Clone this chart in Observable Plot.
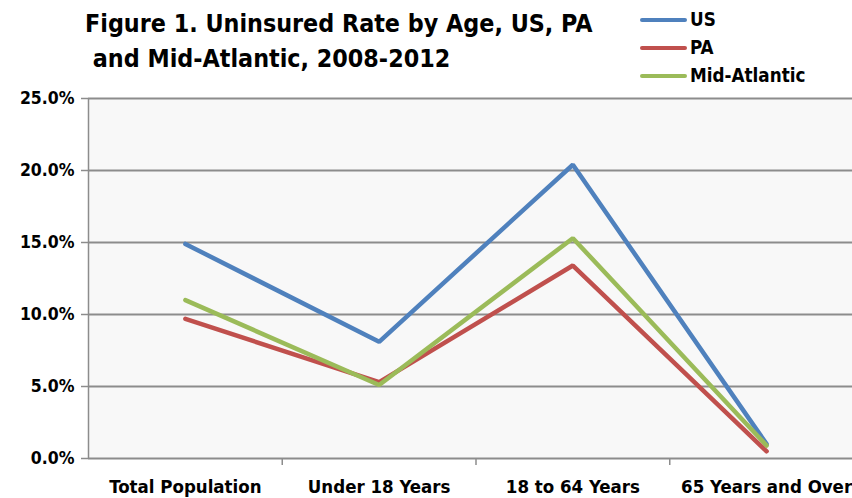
<!DOCTYPE html>
<html><head><meta charset="utf-8">
<script src="https://cdn.jsdelivr.net/npm/d3@7"></script>
<script src="https://cdn.jsdelivr.net/npm/@observablehq/plot@0.6"></script>
<style>
html,body{margin:0;padding:0;background:#fff;}
#wrap{position:relative;width:852px;height:498px;overflow:hidden;font-family:"DejaVu Sans Condensed","Liberation Sans Narrow",sans-serif;font-weight:bold;color:#000;}
#title{position:absolute;left:85px;top:6px;font-size:24.8px;line-height:35px;white-space:pre;}
#legend{position:absolute;left:640px;top:0;}
.lg{position:absolute;left:0;display:flex;align-items:center;white-space:nowrap;font-size:18.7px;}
.sw{width:47px;height:4px;border-radius:2px;margin-right:3px;}
#chart{position:absolute;left:0;top:0;}
</style></head>
<body>
<div id="wrap">
  <div id="chart"></div>
  <div id="title"></div>
  <div id="legend"></div>
</div>
<script>
const titleLines = ["Figure 1. Uninsured Rate by Age, US, PA", " and Mid-Atlantic, 2008-2012"];
const categories = ["Total Population", "Under 18 Years", "18 to 64 Years", "65 Years and Over"];
const seriesNames = ["US", "PA", "Mid-Atlantic"];
const seriesColors = ["#4F81BD", "#C0504D", "#9BBB59"];
const usValues = [14.9, 8.1, 20.4, 1.0];
const paValues = [9.7, 5.3, 13.4, 0.5];
const midAtlanticValues = [11.0, 5.1, 15.3, 0.9];
const yTicks = [0, 5, 10, 15, 20, 25];

const valuesBySeries = [usValues, paValues, midAtlanticValues];
const data = [];
seriesNames.forEach((s, k) => valuesBySeries[k].forEach((v, i) => data.push({series: s, i, v})));
const boundaries = categories.slice(1).map((_, i) => i + 0.5);
const idx = categories.map((_, i) => i);

const grid = "#8c8c8c";
const chart = Plot.plot({
  width: 852, height: 498,
  marginLeft: 88, marginRight: 0, marginTop: 98, marginBottom: 40,
  style: {background: "transparent", fontFamily: "'DejaVu Sans Condensed','Liberation Sans Narrow',sans-serif", fontWeight: "bold", overflow: "visible"},
  x: {type: "linear", domain: [-0.5, categories.length - 0.5], range: [88, 863], axis: null},
  y: {domain: [0, 25], axis: null},
  color: {domain: seriesNames, range: seriesColors},
  marks: [
    Plot.frame({fill: "#f8f8f8", stroke: null}),
    Plot.ruleY(yTicks, {stroke: grid, strokeWidth: 2}),
    Plot.ruleX([-0.5], {stroke: grid, strokeWidth: 1.5}),
    Plot.axisY(yTicks, {anchor: "left", label: null, tickSize: 7, tickPadding: 7, stroke: grid, strokeWidth: 1.5, fill: "#000", fontSize: 17.5, tickFormat: d => d.toFixed(1) + "%"}),
    Plot.axisX(boundaries, {anchor: "bottom", label: null, tickSize: 7, stroke: grid, strokeWidth: 1.5, tickFormat: () => ""}),
    Plot.axisX(idx, {anchor: "bottom", label: null, tickSize: 0, tickPadding: 21, fill: "#000", fontSize: 18.5, tickFormat: i => categories[i]}),
    Plot.line(data, {x: "i", y: "v", z: "series", stroke: "series", strokeWidth: 4.5, strokeLinejoin: "miter", strokeLinecap: "round"})
  ]
});
document.getElementById("chart").appendChild(chart);
document.getElementById("title").textContent = titleLines.join("\n");
const lg = document.getElementById("legend");
seriesNames.forEach((s, k) => {
  const row = document.createElement("div");
  row.className = "lg";
  row.style.top = (9 + k * 28) + "px";
  row.innerHTML = `<div class="sw" style="background:${seriesColors[k]}"></div><span>${s}</span>`;
  lg.appendChild(row);
});
</script>
</body></html>
